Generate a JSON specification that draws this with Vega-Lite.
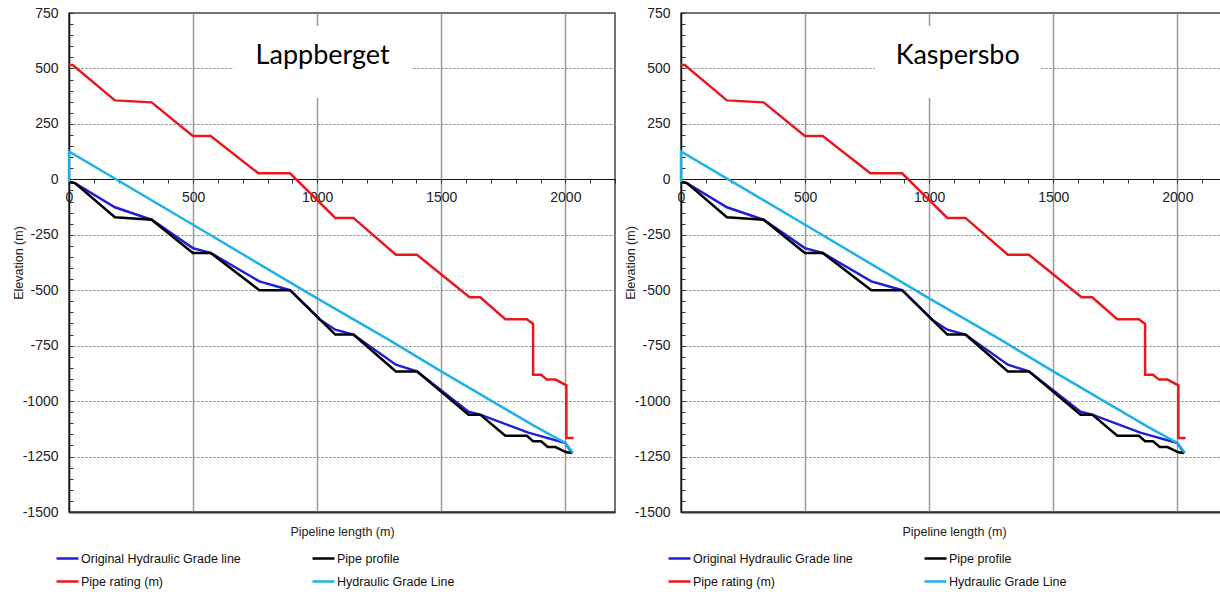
{
  "$schema": "https://vega.github.io/schema/vega-lite/v6.json",
  "padding": {"left": 11, "top": 5, "right": 0, "bottom": 0},
  "config": {
    "font": "Liberation Sans",
    "view": {"stroke": "#444", "strokeWidth": 1.5},
    "concat": {"spacing": 6},
    "axis": {"labelFont": "Liberation Sans", "titleFont": "Liberation Sans", "labelColor": "#222", "titleColor": "#222", "titleFontWeight": "normal"},
    "legend": {"labelFont": "Liberation Sans"}
  },
  "resolve": {"scale": {"color": "independent"}, "legend": {"color": "independent"}},
  "datasets": {
    "p": [
      {"s": "Original Hydraulic Grade line", "i": 1, "x": 3, "y": -12},
      {"s": "Original Hydraulic Grade line", "i": 2, "x": 24, "y": -17},
      {"s": "Original Hydraulic Grade line", "i": 3, "x": 185, "y": -126},
      {"s": "Original Hydraulic Grade line", "i": 4, "x": 333, "y": -182},
      {"s": "Original Hydraulic Grade line", "i": 5, "x": 499, "y": -310},
      {"s": "Original Hydraulic Grade line", "i": 6, "x": 571, "y": -332},
      {"s": "Original Hydraulic Grade line", "i": 7, "x": 767, "y": -460},
      {"s": "Original Hydraulic Grade line", "i": 8, "x": 891, "y": -500},
      {"s": "Original Hydraulic Grade line", "i": 9, "x": 1012, "y": -633},
      {"s": "Original Hydraulic Grade line", "i": 10, "x": 1073, "y": -678},
      {"s": "Original Hydraulic Grade line", "i": 11, "x": 1146, "y": -700},
      {"s": "Original Hydraulic Grade line", "i": 12, "x": 1317, "y": -836},
      {"s": "Original Hydraulic Grade line", "i": 13, "x": 1402, "y": -866},
      {"s": "Original Hydraulic Grade line", "i": 14, "x": 1610, "y": -1048},
      {"s": "Original Hydraulic Grade line", "i": 15, "x": 1657, "y": -1061},
      {"s": "Original Hydraulic Grade line", "i": 16, "x": 1851, "y": -1142},
      {"s": "Original Hydraulic Grade line", "i": 17, "x": 2000, "y": -1189},
      {"s": "Original Hydraulic Grade line", "i": 18, "x": 2027, "y": -1234},
      {"s": "Pipe profile", "i": 1, "x": 3, "y": -12},
      {"s": "Pipe profile", "i": 2, "x": 24, "y": -17},
      {"s": "Pipe profile", "i": 3, "x": 185, "y": -171},
      {"s": "Pipe profile", "i": 4, "x": 333, "y": -182},
      {"s": "Pipe profile", "i": 5, "x": 499, "y": -332},
      {"s": "Pipe profile", "i": 6, "x": 571, "y": -332},
      {"s": "Pipe profile", "i": 7, "x": 767, "y": -500},
      {"s": "Pipe profile", "i": 8, "x": 891, "y": -500},
      {"s": "Pipe profile", "i": 9, "x": 1073, "y": -700},
      {"s": "Pipe profile", "i": 10, "x": 1146, "y": -700},
      {"s": "Pipe profile", "i": 11, "x": 1317, "y": -866},
      {"s": "Pipe profile", "i": 12, "x": 1402, "y": -866},
      {"s": "Pipe profile", "i": 13, "x": 1610, "y": -1061},
      {"s": "Pipe profile", "i": 14, "x": 1657, "y": -1061},
      {"s": "Pipe profile", "i": 15, "x": 1758, "y": -1156},
      {"s": "Pipe profile", "i": 16, "x": 1845, "y": -1156},
      {"s": "Pipe profile", "i": 17, "x": 1870, "y": -1181},
      {"s": "Pipe profile", "i": 18, "x": 1902, "y": -1181},
      {"s": "Pipe profile", "i": 19, "x": 1929, "y": -1207},
      {"s": "Pipe profile", "i": 20, "x": 1960, "y": -1207},
      {"s": "Pipe profile", "i": 21, "x": 2004, "y": -1231},
      {"s": "Pipe profile", "i": 22, "x": 2027, "y": -1234},
      {"s": "Pipe rating (m)", "i": 1, "x": 0, "y": 515},
      {"s": "Pipe rating (m)", "i": 2, "x": 15, "y": 515},
      {"s": "Pipe rating (m)", "i": 3, "x": 185, "y": 356},
      {"s": "Pipe rating (m)", "i": 4, "x": 333, "y": 347},
      {"s": "Pipe rating (m)", "i": 5, "x": 499, "y": 195},
      {"s": "Pipe rating (m)", "i": 6, "x": 571, "y": 195},
      {"s": "Pipe rating (m)", "i": 7, "x": 763, "y": 27},
      {"s": "Pipe rating (m)", "i": 8, "x": 891, "y": 27},
      {"s": "Pipe rating (m)", "i": 9, "x": 1073, "y": -174},
      {"s": "Pipe rating (m)", "i": 10, "x": 1146, "y": -174},
      {"s": "Pipe rating (m)", "i": 11, "x": 1317, "y": -340},
      {"s": "Pipe rating (m)", "i": 12, "x": 1402, "y": -340},
      {"s": "Pipe rating (m)", "i": 13, "x": 1614, "y": -532},
      {"s": "Pipe rating (m)", "i": 14, "x": 1657, "y": -532},
      {"s": "Pipe rating (m)", "i": 15, "x": 1758, "y": -631},
      {"s": "Pipe rating (m)", "i": 16, "x": 1845, "y": -631},
      {"s": "Pipe rating (m)", "i": 17, "x": 1870, "y": -652},
      {"s": "Pipe rating (m)", "i": 18, "x": 1870, "y": -881},
      {"s": "Pipe rating (m)", "i": 19, "x": 1902, "y": -881},
      {"s": "Pipe rating (m)", "i": 20, "x": 1926, "y": -903},
      {"s": "Pipe rating (m)", "i": 21, "x": 1960, "y": -903},
      {"s": "Pipe rating (m)", "i": 22, "x": 2004, "y": -929},
      {"s": "Pipe rating (m)", "i": 23, "x": 2004, "y": -1166},
      {"s": "Pipe rating (m)", "i": 24, "x": 2033, "y": -1166},
      {"s": "Hydraulic Grade Line", "i": 1, "x": 0, "y": -12},
      {"s": "Hydraulic Grade Line", "i": 2, "x": 0, "y": 126},
      {"s": "Hydraulic Grade Line", "i": 3, "x": 500, "y": -205},
      {"s": "Hydraulic Grade Line", "i": 4, "x": 1000, "y": -537},
      {"s": "Hydraulic Grade Line", "i": 5, "x": 1286, "y": -722},
      {"s": "Hydraulic Grade Line", "i": 6, "x": 1500, "y": -866},
      {"s": "Hydraulic Grade Line", "i": 7, "x": 1878, "y": -1114},
      {"s": "Hydraulic Grade Line", "i": 8, "x": 2000, "y": -1189},
      {"s": "Hydraulic Grade Line", "i": 9, "x": 2031, "y": -1234}
    ]
  },
  "hconcat": [
    {
      "width": 546,
      "height": 499,
      "layer": [
        {
          "data": {"values": [{}]},
          "mark": {"type": "rect", "fill": "white", "stroke": null},
          "encoding": {
            "x": {"datum": 665, "type": "quantitative", "scale": {"domain": [0, 2200], "nice": false, "zero": false},
              "axis": {"orient": "bottom", "values": [500, 1000, 1500, 2000], "tickCount": 100, "labels": false, "ticks": false, "grid": true, "gridColor": "#9a9a9a", "gridWidth": 1.5, "domainColor": "#333", "domainWidth": 2, "title": "Pipeline length (m)", "titleFontSize": 12.5, "titlePadding": 13}},
            "x2": {"datum": 1383},
            "y": {"datum": 691, "type": "quantitative", "scale": {"domain": [-1500, 750], "nice": false, "zero": false},
              "axis": {"values": [-1500,-1450,-1400,-1350,-1300,-1250,-1200,-1150,-1100,-1050,-1000,-950,-900,-850,-800,-750,-700,-650,-600,-550,-500,-450,-400,-350,-300,-250,-200,-150,-100,-50,0,50,100,150,200,250,300,350,400,450,500,550,600,650,700,750],
                "tickCount": 100, "labelExpr": "datum.value % 250 === 0 ? '' + datum.value : ''", "labelOverlap": false, "labelFontSize": 14, "labelPadding": 15, "tickSize": -4, "tickColor": "#333", "domainColor": "#111", "domainWidth": 1.5,
                "grid": true, "gridColor": "#777", "gridDash": [2, 2], "gridWidth": 1,
                "gridOpacity": {"condition": {"test": "datum.value % 250 === 0 && datum.value !== 750 && datum.value !== -1500", "value": 1}, "value": 0},
                "title": "Elevation (m)", "titleFontSize": 12.5, "titlePadding": -3}},
            "y2": {"datum": 367}
          }
        },
        {
          "data": {"values": [{}]},
          "mark": {"type": "text", "font": "Lato", "fontSize": 27, "color": "#000", "baseline": "alphabetic", "align": "center"},
          "encoding": {
            "x": {"datum": 1022, "type": "quantitative", "axis": null},
            "y": {"datum": 520, "type": "quantitative"},
            "text": {"value": "Lappberget"}
          }
        },
        {
          "data": {"name": "p"},
          "mark": {"type": "line", "strokeWidth": 2.5},
          "encoding": {
            "x": {"field": "x", "type": "quantitative", "scale": {"domain": [0, 2200], "nice": false, "zero": false},
              "axis": {"orient": "bottom", "offset": -333, "title": null, "values": [0,100,200,300,400,500,600,700,800,900,1000,1100,1200,1300,1400,1500,1600,1700,1800,1900,2000,2100,2200],
                "tickCount": 100, "labelExpr": "datum.value % 500 === 0 ? '' + datum.value : ''", "labelFontSize": 14, "labelPadding": 7, "labelFlush": false, "labelOverlap": false, "tickSize": 4, "tickColor": "#333", "grid": false, "domainColor": "#111", "domainWidth": 1.2}},
            "y": {"field": "y", "type": "quantitative"},
            "color": {"field": "s", "type": "nominal",
              "scale": {"domain": ["Original Hydraulic Grade line", "Pipe rating (m)", "Pipe profile", "Hydraulic Grade Line"], "range": ["#2020d0", "#e8191c", "#000000", "#1fb2e6"]},
              "legend": {"orient": "none", "legendX": -14, "legendY": 533, "columns": 2, "title": null, "symbolType": "stroke", "symbolStrokeWidth": 2.5, "symbolSize": 484, "labelFontSize": 12.5, "labelOffset": 1, "columnPadding": 66, "rowPadding": 4, "labelColor": "#111", "labelLimit": 300}},
            "order": {"field": "i"}
          }
        }
      ],
      "resolve": {"axis": {"x": "independent"}}
    },
    {
      "width": 546,
      "height": 499,
      "layer": [
        {
          "data": {"values": [{}]},
          "mark": {"type": "rect", "fill": "white", "stroke": null},
          "encoding": {
            "x": {"datum": 782, "type": "quantitative", "scale": {"domain": [0, 2200], "nice": false, "zero": false},
              "axis": {"orient": "bottom", "values": [500, 1000, 1500, 2000], "tickCount": 100, "labels": false, "ticks": false, "grid": true, "gridColor": "#9a9a9a", "gridWidth": 1.5, "domainColor": "#333", "domainWidth": 2, "title": "Pipeline length (m)", "titleFontSize": 12.5, "titlePadding": 13}},
            "x2": {"datum": 1448},
            "y": {"datum": 691, "type": "quantitative", "scale": {"domain": [-1500, 750], "nice": false, "zero": false},
              "axis": {"values": [-1500,-1450,-1400,-1350,-1300,-1250,-1200,-1150,-1100,-1050,-1000,-950,-900,-850,-800,-750,-700,-650,-600,-550,-500,-450,-400,-350,-300,-250,-200,-150,-100,-50,0,50,100,150,200,250,300,350,400,450,500,550,600,650,700,750],
                "tickCount": 100, "labelExpr": "datum.value % 250 === 0 ? '' + datum.value : ''", "labelOverlap": false, "labelFontSize": 14, "labelPadding": 15, "tickSize": -4, "tickColor": "#333", "domainColor": "#111", "domainWidth": 1.5,
                "grid": true, "gridColor": "#777", "gridDash": [2, 2], "gridWidth": 1,
                "gridOpacity": {"condition": {"test": "datum.value % 250 === 0 && datum.value !== 750 && datum.value !== -1500", "value": 1}, "value": 0},
                "title": "Elevation (m)", "titleFontSize": 12.5, "titlePadding": -3}},
            "y2": {"datum": 367}
          }
        },
        {
          "data": {"values": [{}]},
          "mark": {"type": "text", "font": "Lato", "fontSize": 27, "color": "#000", "baseline": "alphabetic", "align": "center"},
          "encoding": {
            "x": {"datum": 1115, "type": "quantitative", "axis": null},
            "y": {"datum": 520, "type": "quantitative"},
            "text": {"value": "Kaspersbo"}
          }
        },
        {
          "data": {"name": "p"},
          "mark": {"type": "line", "strokeWidth": 2.5},
          "encoding": {
            "x": {"field": "x", "type": "quantitative", "scale": {"domain": [0, 2200], "nice": false, "zero": false},
              "axis": {"orient": "bottom", "offset": -333, "title": null, "values": [0,100,200,300,400,500,600,700,800,900,1000,1100,1200,1300,1400,1500,1600,1700,1800,1900,2000,2100,2200],
                "tickCount": 100, "labelExpr": "datum.value % 500 === 0 ? '' + datum.value : ''", "labelFontSize": 14, "labelPadding": 7, "labelFlush": false, "labelOverlap": false, "tickSize": 4, "tickColor": "#333", "grid": false, "domainColor": "#111", "domainWidth": 1.2}},
            "y": {"field": "y", "type": "quantitative"},
            "color": {"field": "s", "type": "nominal",
              "scale": {"domain": ["Original Hydraulic Grade line", "Pipe rating (m)", "Pipe profile", "Hydraulic Grade Line"], "range": ["#2020d0", "#e8191c", "#000000", "#1fb2e6"]},
              "legend": {"orient": "none", "legendX": -14, "legendY": 533, "columns": 2, "title": null, "symbolType": "stroke", "symbolStrokeWidth": 2.5, "symbolSize": 484, "labelFontSize": 12.5, "labelOffset": 1, "columnPadding": 66, "rowPadding": 4, "labelColor": "#111", "labelLimit": 300}},
            "order": {"field": "i"}
          }
        }
      ],
      "resolve": {"axis": {"x": "independent"}}
    }
  ]
}
